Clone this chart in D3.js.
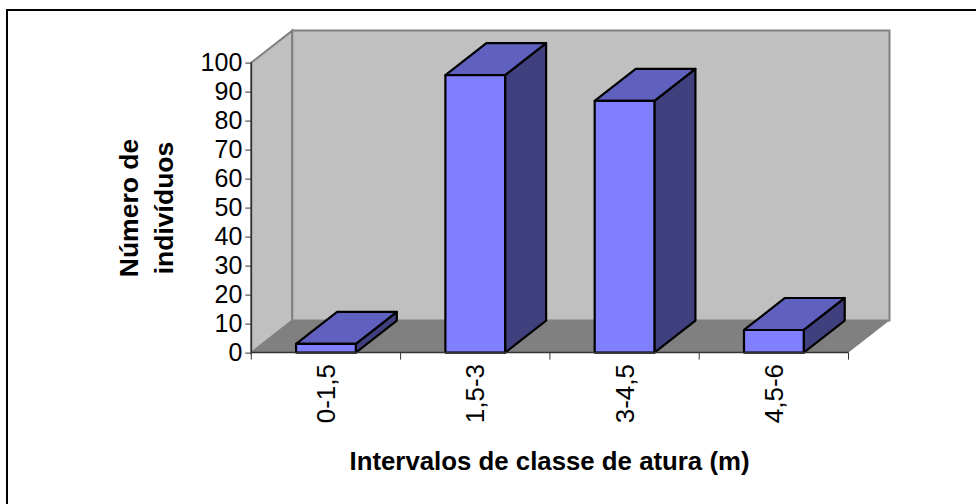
<!DOCTYPE html>
<html><head><meta charset="utf-8">
<script src="https://cdn.jsdelivr.net/npm/d3@7/dist/d3.min.js"></script>
<style>html,body{margin:0;padding:0;background:#fff}svg{display:block}text{font-family:"Liberation Sans",Arial,sans-serif;fill:#000}</style>
</head><body><div id="chart"></div>
<script>
// Height-class histogram drawn as a 3D column chart
const categories = ["0-1,5", "1,5-3", "3-4,5", "4,5-6"];
const counts = [3, 95.7, 86.8, 7.8];
const yTicks = [0, 10, 20, 30, 40, 50, 60, 70, 80, 90, 100];
const xTitle = "Intervalos de classe de atura (m)";
const yTitleLines = ["Número de", "indivíduos"];

const W = 976, H = 504;
const FONT = 25, LABEL_FONT = 26, TITLE_FONT = 25.8, Y_TITLE_FONT = 26.5;
const svg = d3.select("#chart").append("svg").attr("width", W).attr("height", H);

const x = d3.scaleBand().domain(categories).range([251.3, 848.5]).paddingInner(0.6).paddingOuter(0.3);
const y = d3.scaleLinear().domain([0, 100]).range([352.6, 62.6]);
const depth = { dx: 41, dy: -32 };
const poly = pts => pts.map(p => p.join(",")).join(" ");

// Chart frame: only its top and left rules fall inside the page
svg.append("path").attr("d", `M7,${H}V10H${W}`).attr("fill", "none").attr("stroke", "#000").attr("stroke-width", 2);

const x0 = x.range()[0], x1 = x.range()[1], yb = y(0), yt = y(100);
const wallGrey = "#c0c0c0", floorGrey = "#808080", edge = "#808080";

// Side wall, back wall and floor of the 3D box
svg.append("polygon").attr("fill", wallGrey).attr("stroke", edge).attr("stroke-width", 2)
  .attr("points", poly([[x0, yb], [x0, yt], [x0 + depth.dx, yt + depth.dy], [x0 + depth.dx, yb + depth.dy]]));
svg.append("polygon").attr("fill", wallGrey).attr("stroke", edge).attr("stroke-width", 2)
  .attr("points", poly([[x0 + depth.dx, yb + depth.dy], [x0 + depth.dx, yt + depth.dy], [x1 + depth.dx, yt + depth.dy], [x1 + depth.dx, yb + depth.dy]]));
svg.append("polygon").attr("fill", floorGrey)
  .attr("points", poly([[x0, yb], [x0 + depth.dx, yb + depth.dy], [x1 + depth.dx, yb + depth.dy], [x1, yb]]));

// Columns: side face, top face, front face
const bars = svg.append("g").selectAll("g").data(categories).join("g")
  .attr("stroke", "#000").attr("stroke-width", 2.2).attr("stroke-linejoin", "round");
const bw = x.bandwidth();
bars.append("polygon").attr("fill", "#40407f").attr("points", (d, i) => {
  const l = x(d) + bw, t = y(counts[i]);
  return poly([[l, yb], [l, t], [l + depth.dx, t + depth.dy], [l + depth.dx, yb + depth.dy]]);
});
bars.append("polygon").attr("fill", "#6060bf").attr("points", (d, i) => {
  const l = x(d), t = y(counts[i]);
  return poly([[l, t], [l + depth.dx, t + depth.dy], [l + bw + depth.dx, t + depth.dy], [l + bw, t]]);
});
bars.append("rect").attr("fill", "#8080ff")
  .attr("x", d => x(d)).attr("width", bw)
  .attr("y", (d, i) => y(counts[i])).attr("height", (d, i) => yb - y(counts[i]));

// Value axis
const yAxis = svg.append("g").attr("transform", `translate(${x0},0)`)
  .call(d3.axisLeft(y).tickValues(yTicks).tickSize(6).tickPadding(3));
yAxis.selectAll("text").attr("font-size", FONT).style("font-family", '"Liberation Sans",Arial,sans-serif');
yAxis.selectAll("line,path").attr("stroke", "#333").attr("stroke-width", 1.5);
yAxis.selectAll("line").attr("stroke-width", 1);
yAxis.select("path").attr("d", `M0,${yb}V${yt}`);

// Category axis with ticks at the band boundaries and rotated labels
const step = x.step();
svg.append("line").attr("x1", x0).attr("x2", x1).attr("y1", yb).attr("y2", yb).attr("stroke", "#333").attr("stroke-width", 1.5);
svg.append("g").selectAll("line").data(d3.range(categories.length + 1)).join("line")
  .attr("x1", i => x0 + i * step).attr("x2", i => x0 + i * step)
  .attr("y1", yb).attr("y2", yb + 7).attr("stroke", "#333").attr("stroke-width", 1);
svg.append("g").selectAll("text").data(categories).join("text")
  .attr("transform", d => `translate(${x(d) + bw / 2 + 9},364) rotate(-90)`)
  .attr("text-anchor", "end").attr("font-size", LABEL_FONT).text(d => d);

// Axis titles
svg.append("text").attr("x", 549.5).attr("y", 470).attr("text-anchor", "middle")
  .attr("font-size", TITLE_FONT).attr("font-weight", "bold").text(xTitle);
const yTitle = svg.append("text").attr("transform", "translate(138,208) rotate(-90)")
  .attr("text-anchor", "middle").attr("font-size", Y_TITLE_FONT).attr("font-weight", "bold");
yTitleLines.forEach((line, i) => yTitle.append("tspan").attr("x", 0).attr("dy", i ? 35 : 0).text(line));
</script></body></html>
